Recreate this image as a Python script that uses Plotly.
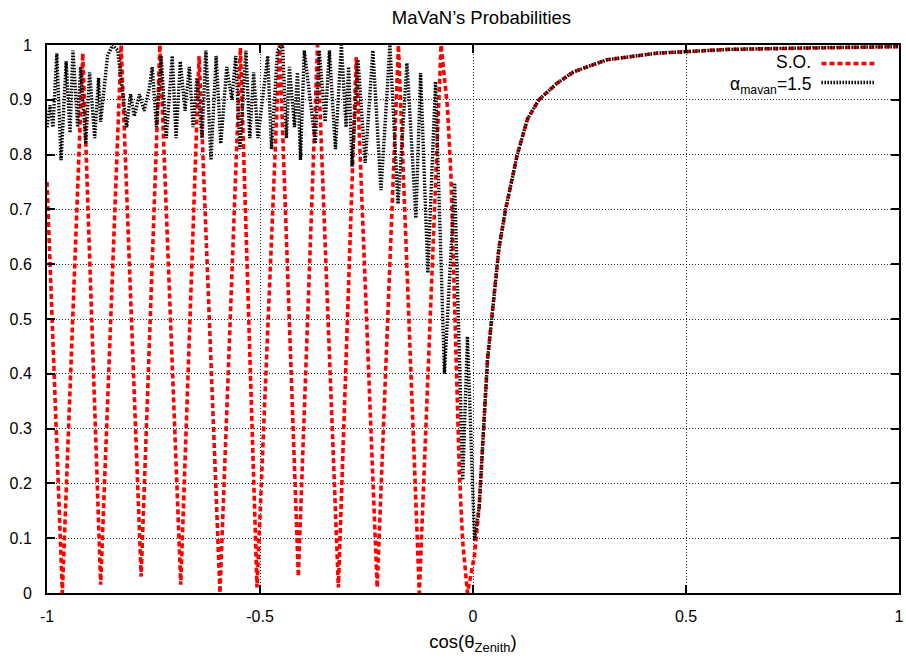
import plotly.graph_objects as go

# ---- data ----
so_x = [-1.0, -0.964, -0.916, -0.874, -0.826, -0.779, -0.735, -0.686, -0.643, -0.594,
        -0.546, -0.507, -0.454, -0.410, -0.365, -0.316, -0.274, -0.225, -0.175, -0.126,
        -0.075, -0.060, -0.052, -0.0455, -0.040, -0.032, -0.0245, -0.013, 0.003, 0.0145,
        0.034, 0.061, 0.0765, 0.104, 0.128, 0.1545, 0.197, 0.236, 0.314, 0.431, 0.6, 0.8, 1.0]
so_y = [0.75, 0.0, 0.985, 0.015, 1.0, 0.03, 1.0, 0.015, 0.98, 0.0,
        0.995, 0.01, 1.0, 0.03, 1.0, 0.01, 0.978, 0.01, 1.0, 0.0,
        1.0, 0.887, 0.766, 0.584, 0.40, 0.22, 0.097, 0.0, 0.066, 0.157,
        0.425, 0.63, 0.70, 0.80, 0.865, 0.90, 0.93, 0.951, 0.973, 0.985, 0.992, 0.995, 0.997]

mavan_x = [-1.0, -0.993, -0.986, -0.977, -0.967, -0.955, -0.946, -0.939, -0.928, -0.921,
           -0.909, -0.900, -0.888, -0.879, -0.874, -0.858, -0.846, -0.834, -0.825, -0.813,
           -0.804, -0.795, -0.783, -0.772, -0.760, -0.753, -0.743, -0.732, -0.720, -0.706,
           -0.697, -0.687, -0.676, -0.666, -0.657, -0.648, -0.636, -0.627, -0.615, -0.603,
           -0.592, -0.578, -0.566, -0.557, -0.547, -0.533, -0.524, -0.515, -0.505, -0.494,
           -0.482, -0.473, -0.459, -0.447, -0.438, -0.431, -0.419, -0.412, -0.405, -0.396,
           -0.382, -0.370, -0.361, -0.347, -0.337, -0.323, -0.309, -0.298, -0.292, -0.284,
           -0.270, -0.253, -0.235, -0.216, -0.195, -0.176, -0.155, -0.134, -0.123, -0.106,
           -0.088, -0.067, -0.043, -0.024, -0.013, 0.0035, 0.0145,
           0.034, 0.061, 0.0765, 0.104, 0.128, 0.1545, 0.197, 0.236, 0.314, 0.431, 0.6, 0.8, 1.0]
mavan_y = [0.85, 0.89, 0.85, 0.985, 0.79, 0.97, 0.84, 0.99, 0.85, 0.96,
           0.82, 0.95, 0.83, 0.94, 0.86, 0.98, 1.0, 0.99, 0.93, 0.85,
           0.91, 0.87, 0.91, 0.88, 0.92, 0.96, 0.85, 0.98, 0.83, 0.98,
           0.83, 0.97, 0.88, 0.96, 0.85, 0.94, 0.83, 0.99, 0.79, 0.98,
           0.82, 0.96, 0.90, 0.98, 0.81, 0.99, 0.83, 0.95, 0.83, 0.90,
           0.98, 0.81, 0.99, 1.0, 0.83, 0.96, 0.85, 0.95, 0.79, 0.99,
           0.90, 0.82, 0.99, 0.86, 0.99, 0.81, 1.0, 0.85, 0.96, 0.778,
           0.973, 0.785, 0.99, 0.735, 1.0, 0.71, 0.967, 0.684, 0.949, 0.584,
           0.933, 0.40, 0.748, 0.206, 0.468, 0.097, 0.157,
           0.425, 0.63, 0.70, 0.80, 0.865, 0.90, 0.93, 0.951, 0.973, 0.985, 0.992, 0.995, 0.997]

x_ticks = [-1, -0.5, 0, 0.5, 1]
x_tick_labels = ["-1", "-0.5", "0", "0.5", "1"]
y_ticks = [0, 0.1, 0.2, 0.3, 0.4, 0.5, 0.6, 0.7, 0.8, 0.9, 1]
y_tick_labels = ["0", "0.1", "0.2", "0.3", "0.4", "0.5", "0.6", "0.7", "0.8", "0.9", "1"]

FONT = "Liberation Sans, Arial, Helvetica, sans-serif"
TEXT_SIZE = 18.5
LEGEND_SIZE = 17.5

fig = go.Figure()
fig.add_trace(go.Scatter(x=so_x, y=so_y, mode="lines", name="S.O.",
                         line=dict(color="#ff0000", width=3.6, dash="5px,3px")))
fig.add_trace(go.Scatter(x=mavan_x, y=mavan_y, mode="lines", name="α<sub>mavan</sub>=1.5",
                         line=dict(color="#000000", width=3.4, dash="1.5px,1.5px")))

axis_common = dict(showline=True, linecolor="black", linewidth=2, mirror="ticks",
                   ticks="inside", ticklen=8, tickwidth=1.5, tickcolor="black",
                   showgrid=True, gridcolor="rgba(0,0,0,0.85)", gridwidth=1,
                   griddash="1px,2px", zeroline=False, ticklabeloverflow="allow",
                   tickfont=dict(family=FONT, size=16, color="black"))

fig.update_xaxes(range=[-1, 1], tickvals=x_ticks, ticktext=x_tick_labels,
                 ticklabelstandoff=8,
                 title=dict(text="cos(θ<sub>Zenith</sub>)", standoff=11,
                            font=dict(family=FONT, size=TEXT_SIZE, color="black")),
                 **axis_common)
fig.update_yaxes(range=[0, 1], tickvals=y_ticks, ticktext=y_tick_labels,
                 ticklabelstandoff=10, **axis_common)

# legend drawn gnuplot-style (text, then sample)
def px2paper_x(px):
    return (px - 47) / 857.0

def py2paper_y(py):
    return (593 - py) / 548.0

fig.add_annotation(x=px2paper_x(816), y=py2paper_y(73), xref="paper", yref="paper",
                   text="S.O.", showarrow=False, xanchor="right", yanchor="bottom",
                   borderpad=0,
                   font=dict(family=FONT, size=LEGEND_SIZE, color="black"))
fig.add_annotation(x=px2paper_x(816), y=py2paper_y(73), xref="paper", yref="paper",
                   text="α<sub>mavan</sub>=1.5", showarrow=False, xanchor="right",
                   yanchor="top", borderpad=0,
                   font=dict(family=FONT, size=LEGEND_SIZE, color="black"))
fig.add_shape(type="line", xref="paper", yref="paper",
              x0=px2paper_x(826), x1=px2paper_x(880), y0=py2paper_y(63.5), y1=py2paper_y(63.5),
              line=dict(color="#ff0000", width=3.6, dash="5px,3px"))
fig.add_shape(type="line", xref="paper", yref="paper",
              x0=px2paper_x(826), x1=px2paper_x(879), y0=py2paper_y(82.5), y1=py2paper_y(82.5),
              line=dict(color="#000000", width=3.4, dash="1.5px,1.5px"))

fig.update_layout(
    width=906, height=658,
    margin=dict(l=47, r=2, t=45, b=65),
    paper_bgcolor="white", plot_bgcolor="white",
    showlegend=False,
    title=dict(text="MaVaN’s Probabilities", x=481.5 / 906, xanchor="center",
               xref="container", y=1 - 18 / 658, yanchor="middle", yref="container",
               font=dict(family=FONT, size=TEXT_SIZE, color="black")),
)

fig.write_html("out.html")
